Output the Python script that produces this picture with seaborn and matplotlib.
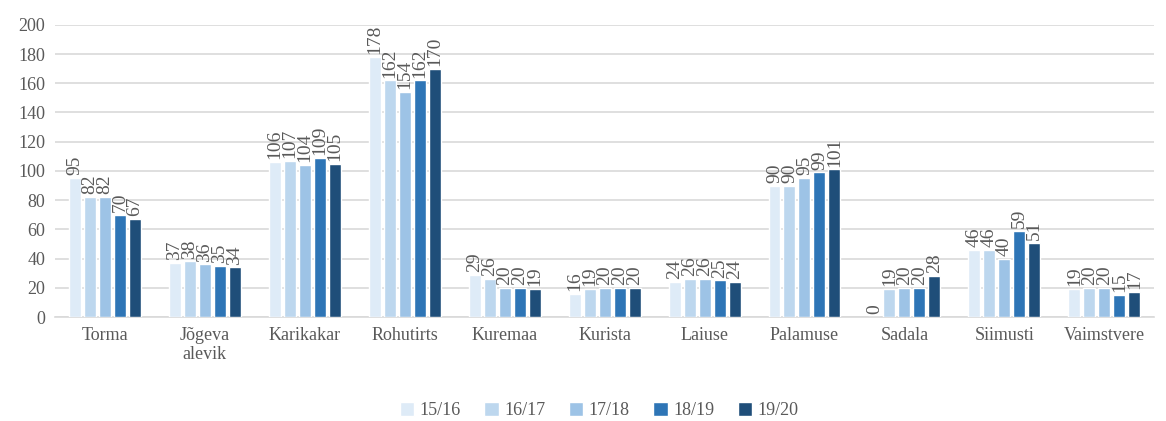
import pandas as pd
import matplotlib
matplotlib.use("Agg")
import matplotlib.pyplot as plt
import seaborn as sns

# data
schools = ["Torma", "Jõgeva\nalevik", "Karikakar", "Rohutirts", "Kuremaa", "Kurista",
           "Laiuse", "Palamuse", "Sadala", "Siimusti", "Vaimstvere"]
years = ["15/16", "16/17", "17/18", "18/19", "19/20"]
y1516 = [95, 37, 106, 178, 29, 16, 24, 90, 0, 46, 19]
y1617 = [82, 38, 107, 162, 26, 19, 26, 90, 19, 46, 20]
y1718 = [82, 36, 104, 154, 20, 20, 26, 95, 20, 40, 20]
y1819 = [70, 35, 109, 162, 20, 20, 25, 99, 20, 59, 15]
y1920 = [67, 34, 105, 170, 19, 20, 24, 101, 28, 51, 17]
colors = ["#DEEBF7", "#BDD7EE", "#9DC3E6", "#2E75B6", "#1F4E79"]

rows = []
for yr, vals in zip(years, [y1516, y1617, y1718, y1819, y1920]):
    for s, v in zip(schools, vals):
        rows.append({"kool": s, "aasta": yr, "arv": v})
df = pd.DataFrame(rows)

sns.set_style("white")
plt.rcParams["font.family"] = ["Liberation Serif", "DejaVu Serif"]
txt = "#595959"

fig = plt.figure(figsize=(11.66, 4.21), dpi=100)
ax = fig.add_axes([0.047, 0.247, 0.943, 0.694])
sns.barplot(data=df, x="kool", y="arv", hue="aasta", palette=colors, saturation=1,
            width=0.75, gap=0.2, ax=ax, legend=True, zorder=3)

for cont in ax.containers:
    ax.bar_label(cont, rotation=90, padding=2, fontsize=14, color=txt)

ax.set_ylim(0, 200)
ax.set_yticks(range(0, 201, 20))
ax.yaxis.grid(True, color="#D9D9D9", linewidth=1.2, zorder=0)
ax.set_axisbelow(True)
for s in ["left", "right", "top"]:
    ax.spines[s].set_visible(False)
ax.spines["bottom"].set_color("#D9D9D9")
ax.spines["bottom"].set_linewidth(1.2)
ax.tick_params(axis="both", length=0, labelsize=13, labelcolor=txt, pad=7)
ax.set_xlabel("")
ax.set_ylabel("")
ax.set_xlim(-0.5, len(schools) - 0.5)

ax.legend(loc="center", bbox_to_anchor=(0.495, -0.32), ncol=5, frameon=False,
          fontsize=13, handlelength=0.8, handleheight=0.8, handletextpad=0.3,
          columnspacing=1.3, labelcolor=txt)

fig.savefig("out.png", dpi=100)
